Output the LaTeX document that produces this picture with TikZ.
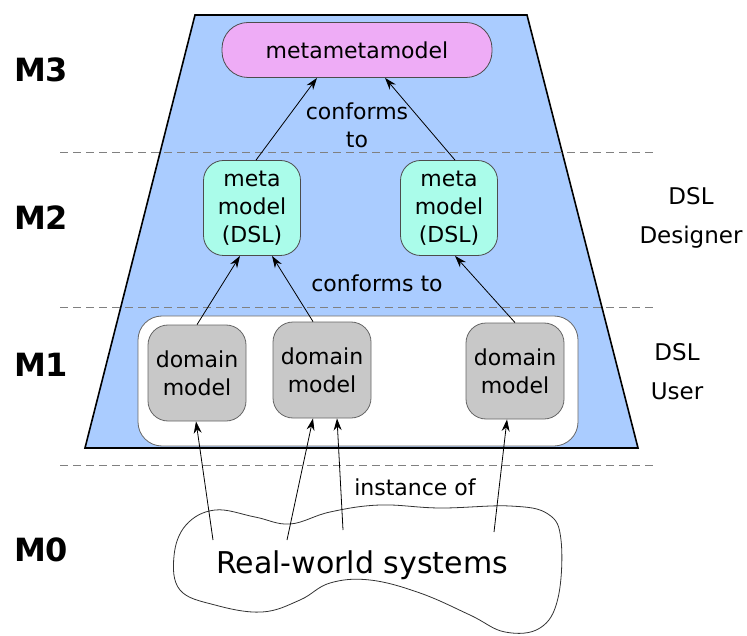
\documentclass[tikz,border=0pt]{standalone}
\usepackage{fontspec}
\setmainfont{DejaVu Sans}
\usetikzlibrary{arrows.meta}
\definecolor{layerblue}{RGB}{170,204,255}
\definecolor{mmviolet}{RGB}{238,172,246}
\definecolor{metaaqua}{RGB}{170,252,234}
\definecolor{domaingray}{RGB}{200,200,200}
\begin{document}
\begin{tikzpicture}[x=0.5pt, y=-0.5pt, >={Stealth[length=6pt,width=4pt]},
    txt/.style={font=\fontsize{11}{14}\selectfont, align=center},
    levellabel/.style={font=\fontsize{16}{18}\selectfont\bfseries, anchor=west},
    rolelabel/.style={font=\fontsize{11.5}{19.5}\selectfont, align=center},
    sepline/.style={dashed, dash pattern=on 4pt off 2.5pt, gray, thin},
    mmbox/.style={txt, draw=black!70, fill=mmviolet, rounded corners=13pt,
                  minimum width=135pt, minimum height=27.5pt},
    metabox/.style={txt, draw=black!70, fill=metaaqua, rounded corners=10pt,
                    minimum width=48.5pt, minimum height=47.5pt, inner sep=1pt},
    domainbox/.style={txt, draw=black!60, fill=domaingray, rounded corners=10pt,
                      minimum width=49pt, minimum height=48pt, inner sep=1pt}]

  \useasboundingbox (0,0) rectangle (747,635);

  % Layer trapezoid
  \draw[fill=layerblue, thick] (195,15) -- (527,15) -- (638,448) -- (85,448) -- cycle;

  % Separators between levels
  \draw[sepline] (60,152) -- (655,152);
  \draw[sepline] (60,307) -- (655,307);
  \draw[sepline] (60,465) -- (655,465);

  % M1 container
  \draw[draw=black!60, fill=white, rounded corners=12pt] (138,316) rectangle (578,446);

  % Level labels
  \node[levellabel] (lm3) at (7,70) {M3};
  \node[levellabel] (lm2) at (7,218) {M2};
  \node[levellabel] (lm1) at (7,365) {M1};
  \node[levellabel] (lm0) at (7,550) {M0};
  \node[rolelabel] (designer) at (691,218) {DSL\\Designer};
  \node[rolelabel] (user) at (677,372) {DSL\\User};

  % Models
  \node[mmbox] (mm) at (357,50) {metametamodel};
  \node[metabox] (m1) at (252,208) {meta\\model\\(DSL)};
  \node[metabox] (m2) at (449,208) {meta\\model\\(DSL)};
  \node[domainbox] (d1) at (197,373) {domain\\model};
  \node[domainbox] (d2) at (322,370) {domain\\model};
  \node[domainbox] (d3) at (515,371) {domain\\model};

  % Real-world systems
  \draw[black!80] plot[smooth cycle, tension=0.65] coordinates {(174,556) (186,525)
    (215,510) (255,517) (290,524) (330,512) (380,505) (440,508) (510,506)
    (548,514) (561,540) (558,598) (540,628) (505,632) (470,615) (420,593)
    (370,580) (330,583) (300,600) (262,612) (215,605) (180,590)};
  \node[font=\fontsize{15}{18}\selectfont] (rws) at (362,565) {Real-world systems};
  \coordinate (s1) at (213,540);
  \coordinate (s2) at (287,540);
  \coordinate (s3) at (343,530);
  \coordinate (s4) at (494,532);

  % conforms to / instance of
  \draw[->] ([xshift=2pt]m1.north) -- ([xshift=-20pt]mm.south);
  \draw[->] ([xshift=3pt]m2.north) -- ([xshift=14pt]mm.south);
  \node[txt] (conf3) at (357,125) {conforms\\to};

  \draw[->] (d1.north) -- ([xshift=-6pt]m1.south);
  \draw[->] ([xshift=-4.5pt]d2.north) -- ([xshift=10pt]m1.south);
  \draw[->] (d3.north) -- ([xshift=3pt]m2.south);
  \node[txt] (conf2) at (377,283) {conforms to};

  \draw[->] (s1) -- ([xshift=-0.5pt]d1.south);
  \draw[->] (s2) -- ([xshift=-4.5pt]d2.south);
  \draw[->] (s3) -- ([xshift=7.5pt]d2.south);
  \draw[->] (s4) -- ([xshift=-4pt]d3.south);
  \node[txt] (inst) at (415,487) {instance of};
\end{tikzpicture}
\end{document}
